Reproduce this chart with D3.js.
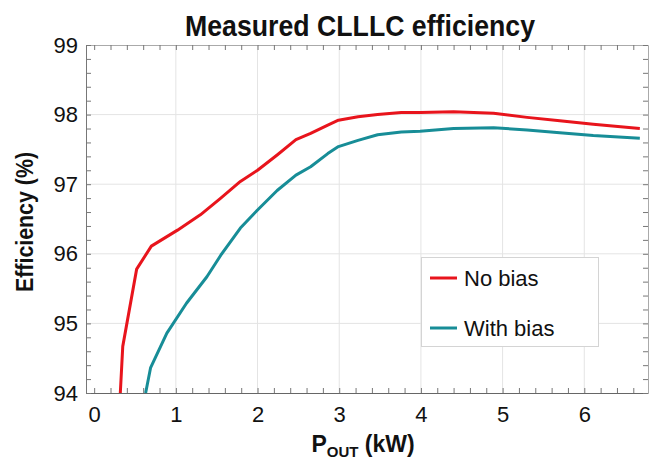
<!DOCTYPE html>
<html>
<head>
<meta charset="utf-8">
<script src="https://cdn.jsdelivr.net/npm/d3@7"></script>
<style>
  body { margin: 0; background: #fff; }
  svg { display: block; }
  text { font-family: "Liberation Sans", Arial, Helvetica, sans-serif; fill: #111; }
</style>
</head>
<body>
<svg id="chart" width="649" height="460"></svg>
<script>
// Output power (kW) and measured efficiency (%) for each configuration
const noBiasKW   = [0.32, 0.35, 0.52, 0.70, 1.02, 1.30, 1.55, 1.79, 2.00, 2.24, 2.47, 2.65, 2.86, 2.99, 3.23, 3.47, 3.76, 3.99, 4.40, 4.89, 5.30, 5.70, 6.11, 6.68];
const noBiasEff  = [94.00, 94.67, 95.78, 96.11, 96.34, 96.56, 96.80, 97.04, 97.20, 97.42, 97.64, 97.73, 97.85, 97.92, 97.97, 98.00, 98.03, 98.03, 98.04, 98.02, 97.96, 97.91, 97.86, 97.80];
const withBiasKW  = [0.63, 0.69, 0.89, 1.13, 1.38, 1.55, 1.79, 2.00, 2.24, 2.47, 2.65, 2.86, 2.99, 3.23, 3.47, 3.76, 3.99, 4.40, 4.89, 5.30, 5.70, 6.11, 6.68];
const withBiasEff = [94.00, 94.36, 94.86, 95.29, 95.67, 95.98, 96.37, 96.63, 96.91, 97.13, 97.25, 97.44, 97.54, 97.63, 97.71, 97.75, 97.76, 97.80, 97.81, 97.78, 97.74, 97.70, 97.66];

const seriesNames = ["No bias", "With bias"];
const xTickLabels = [0, 1, 2, 3, 4, 5, 6];
const yTickLabels = [94, 95, 96, 97, 98, 99];

const chartTitle = "Measured CLLLC efficiency";
const yTitle = "Efficiency (%)";

const svg = d3.select("#chart");
const plotLeft = 86, plotRight = 648, plotTop = 45, plotBottom = 393;

const x = d3.scaleLinear().domain([-0.1, 6.78]).range([plotLeft, plotRight]);
const y = d3.scaleLinear().domain([94, 99]).range([plotBottom, plotTop]);

const red = "#e8141c", teal = "#178d97";

// grid
const grid = svg.append("g");
grid.selectAll("line.v").data(xTickLabels.filter(d => d > 0)).join("line")
  .attr("x1", d => x(d)).attr("x2", d => x(d)).attr("y1", plotTop).attr("y2", plotBottom)
  .attr("stroke", "#e4e4e4").attr("stroke-width", 1);
grid.selectAll("line.h").data(yTickLabels.filter(d => d > 94 && d < 99)).join("line")
  .attr("x1", plotLeft).attr("x2", plotRight).attr("y1", d => y(d)).attr("y2", d => y(d))
  .attr("stroke", "#e4e4e4").attr("stroke-width", 1);

// minor ticks on all four sides, pointing inward
const xMinor = d3.range(0, 6.81, 0.2).map(v => +v.toFixed(1));
const yMinor = d3.range(94, 99.01, 0.2).map(v => +v.toFixed(1));

function styleAxis(g, color) {
  g.selectAll(".domain").attr("stroke", color);
  g.selectAll(".tick line").attr("stroke", "#777");
}

svg.append("g").attr("transform", `translate(0,${plotBottom})`)
  .call(d3.axisBottom(x).tickValues(xMinor).tickSize(-5).tickSizeOuter(0).tickFormat(""))
  .call(g => styleAxis(g, "#666"));
svg.append("g").attr("transform", `translate(0,${plotTop})`)
  .call(d3.axisTop(x).tickValues(xMinor).tickSize(-5).tickSizeOuter(0).tickFormat(""))
  .call(g => styleAxis(g, "#aaa"));
svg.append("g").attr("transform", `translate(${plotLeft},0)`)
  .call(d3.axisLeft(y).tickValues(yMinor).tickSize(-5).tickSizeOuter(0).tickFormat(""))
  .call(g => styleAxis(g, "#777"));
svg.append("g").attr("transform", `translate(${plotRight},0)`)
  .call(d3.axisRight(y).tickValues(yMinor).tickSize(-5).tickSizeOuter(0).tickFormat(""))
  .call(g => styleAxis(g, "#aaa"));

// tick labels
const xLab = svg.append("g").attr("transform", `translate(0,${plotBottom})`)
  .call(d3.axisBottom(x).tickValues(xTickLabels).tickSize(0).tickPadding(13).tickFormat(d3.format("d")));
xLab.select(".domain").remove();
xLab.selectAll("text").attr("font-size", 22).attr("font-family", null);

const yLab = svg.append("g").attr("transform", `translate(${plotLeft},0)`)
  .call(d3.axisLeft(y).tickValues(yTickLabels).tickSize(0).tickPadding(8).tickFormat(d3.format("d")));
yLab.select(".domain").remove();
yLab.selectAll("text").attr("font-size", 22).attr("font-family", null);

// data lines
const line = d3.line().x(d => x(d[0])).y(d => y(d[1])).curve(d3.curveLinear);
const series = [
  { name: seriesNames[0], pts: d3.zip(noBiasKW, noBiasEff), color: red },
  { name: seriesNames[1], pts: d3.zip(withBiasKW, withBiasEff), color: teal }
];
svg.append("g").selectAll("path").data(series).join("path")
  .attr("d", d => line(d.pts))
  .attr("fill", "none").attr("stroke", d => d.color)
  .attr("stroke-width", 3).attr("stroke-linejoin", "round");

// legend
const lg = svg.append("g");
lg.append("rect").attr("x", 421.5).attr("y", 257.5).attr("width", 177).attr("height", 89)
  .attr("fill", "#fff").attr("stroke", "#d4d4d4");
series.forEach((s, i) => {
  const cy = 278 + i * 50;
  lg.append("line").attr("x1", 430).attr("x2", 457).attr("y1", cy).attr("y2", cy)
    .attr("stroke", s.color).attr("stroke-width", 3);
  lg.append("text").attr("x", 464).attr("y", cy + 8).attr("font-size", 22).text(s.name);
});

// titles
svg.append("text").attr("x", 360).attr("y", 36).attr("text-anchor", "middle")
  .attr("font-size", 29).attr("font-weight", "bold")
  .attr("textLength", 350).attr("lengthAdjust", "spacingAndGlyphs")
  .text(chartTitle);

svg.append("text").attr("transform", "translate(33,222) rotate(-90)")
  .attr("text-anchor", "middle").attr("font-size", 24).attr("font-weight", "bold")
  .attr("textLength", 140).attr("lengthAdjust", "spacingAndGlyphs")
  .text(yTitle);

const xt = svg.append("text").attr("x", 363).attr("y", 452).attr("text-anchor", "middle")
  .attr("font-weight", "bold").attr("font-size", 23);
xt.append("tspan").text("P");
xt.append("tspan").attr("font-size", 15).attr("dy", 5).text("OUT");
xt.append("tspan").attr("dy", -5).text(" (kW)");
</script>
</body>
</html>
